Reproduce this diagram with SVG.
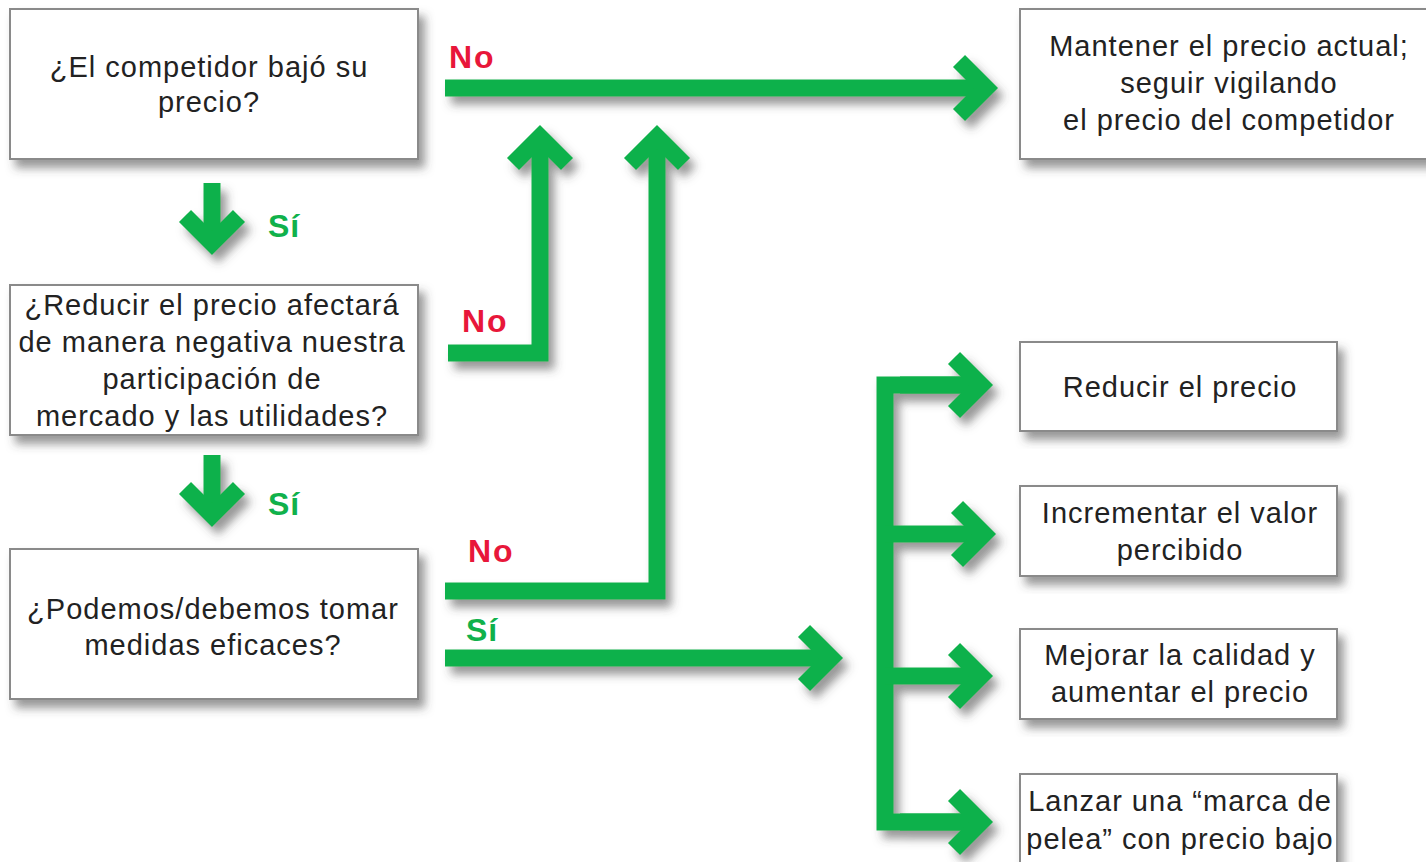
<svg xmlns="http://www.w3.org/2000/svg" width="1426" height="862" viewBox="0 0 1426 862">
<style>
.box{fill:#fff;stroke:#8a8a8a;stroke-width:2}
.t{font-family:"Liberation Sans",Arial,sans-serif;font-size:29px;letter-spacing:1px;fill:#222;text-anchor:middle}
.no{font-family:"Liberation Sans",Arial,sans-serif;font-size:32px;font-weight:bold;fill:#E8173A;letter-spacing:2px}
.si{font-family:"Liberation Sans",Arial,sans-serif;font-size:32px;font-weight:bold;fill:#10B14B;letter-spacing:1px}
.c{fill:none;stroke:#10B14B;stroke-width:17;stroke-linejoin:miter;stroke-linecap:butt}
.a{marker-end:url(#ah)}
</style>
<defs>
<filter id="sh" x="-20%" y="-20%" width="140%" height="140%">
<feDropShadow dx="6" dy="8" stdDeviation="5" flood-color="#444" flood-opacity="0.55"/>
</filter>
<marker id="ah" markerUnits="userSpaceOnUse" markerWidth="90" markerHeight="90" refX="50" refY="45" orient="auto" overflow="visible">
<path d="M23 18 L50 45 L23 72" fill="none" stroke="#10B14B" stroke-width="17" stroke-linejoin="miter" stroke-miterlimit="4"/>
</marker>
</defs>
<rect width="1426" height="862" fill="#fff"/>

<g id="connectors" filter="url(#sh)">
<path class="c a" d="M445 88 H986"/>
<path class="c a" d="M212 183 V243"/>
<path class="c a" d="M448 353 H540 V137"/>
<path class="c a" d="M212 455 V515"/>
<path class="c a" d="M445 591 H657 V137"/>
<path class="c a" d="M445 658 H831"/>
<path class="c" d="M981 385 H885 V822 H981"/>
<path class="c a" d="M900 385 H981"/>
<path class="c a" d="M885 534 H984"/>
<path class="c a" d="M885 676 H981"/>
<path class="c a" d="M900 822 H981"/>
</g>

<g id="labels">
<text class="no" x="449" y="68">No</text>
<text class="si" x="268" y="237">Sí</text>
<text class="no" x="462" y="332">No</text>
<text class="si" x="268" y="515">Sí</text>
<text class="no" x="468" y="562">No</text>
<text class="si" x="466" y="641">Sí</text>
</g>

<g id="n1">
<rect class="box" x="10" y="9" width="408" height="150" filter="url(#sh)"/>
<text class="t" x="209" y="77">¿El competidor bajó su</text>
<text class="t" x="209" y="112">precio?</text>
</g>
<g id="n2">
<rect class="box" x="10" y="285" width="408" height="150" filter="url(#sh)"/>
<text class="t" x="212" y="315">¿Reducir el precio afectará</text>
<text class="t" x="212" y="352">de manera negativa nuestra</text>
<text class="t" x="212" y="389">participación de</text>
<text class="t" x="212" y="426">mercado y las utilidades?</text>
</g>
<g id="n3">
<rect class="box" x="10" y="549" width="408" height="150" filter="url(#sh)"/>
<text class="t" x="213" y="619">¿Podemos/debemos tomar</text>
<text class="t" x="213" y="655">medidas eficaces?</text>
</g>
<g id="n4">
<rect class="box" x="1020" y="9" width="416" height="150" filter="url(#sh)"/>
<text class="t" x="1229" y="56">Mantener el precio actual;</text>
<text class="t" x="1229" y="93">seguir vigilando</text>
<text class="t" x="1229" y="130">el precio del competidor</text>
</g>
<g id="n5">
<rect class="box" x="1020" y="342" width="317" height="89" filter="url(#sh)"/>
<text class="t" x="1180" y="397">Reducir el precio</text>
</g>
<g id="n6">
<rect class="box" x="1020" y="486" width="317" height="90" filter="url(#sh)"/>
<text class="t" x="1180" y="523">Incrementar el valor</text>
<text class="t" x="1180" y="560">percibido</text>
</g>
<g id="n7">
<rect class="box" x="1020" y="629" width="317" height="90" filter="url(#sh)"/>
<text class="t" x="1180" y="665">Mejorar la calidad y</text>
<text class="t" x="1180" y="702">aumentar el precio</text>
</g>
<g id="n8">
<rect class="box" x="1020" y="774" width="317" height="120" filter="url(#sh)"/>
<text class="t" x="1180" y="811">Lanzar una “marca de</text>
<text class="t" x="1180" y="849">pelea” con precio bajo</text>
</g>
</svg>
